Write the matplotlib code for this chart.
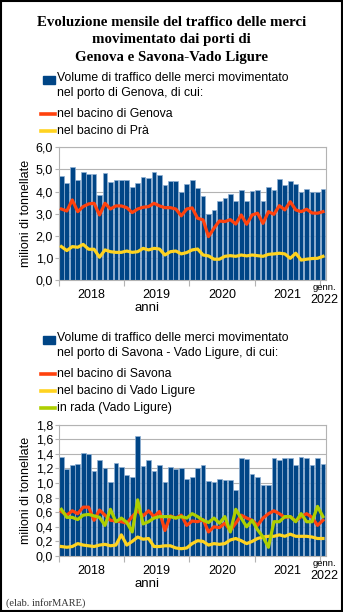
import numpy as np
import matplotlib
matplotlib.use("Agg")
import matplotlib.pyplot as plt
from matplotlib.patches import Rectangle
from matplotlib.lines import Line2D

# monthly data, Jan 2018 .. Jan 2022 (49 months), million tonnes
genova_tot = [4.68, 4.40, 5.12, 4.50, 4.87, 4.78, 4.80, 3.83, 4.82, 4.45, 4.50, 4.53,
              4.52, 4.20, 4.38, 4.65, 4.62, 4.90, 4.75, 4.30, 4.47, 4.48, 3.98, 4.35,
              4.53, 4.17, 3.82, 3.00, 3.18, 3.55, 3.70, 3.87, 3.57, 4.07, 3.57, 4.02,
              4.07, 3.57, 4.22, 4.08, 4.58, 4.28, 4.48, 4.35, 3.97, 4.10, 3.98, 3.98,
              4.12]
genova_bac = [3.21, 3.12, 3.62, 3.09, 3.32, 3.44, 3.47, 2.94, 3.47, 3.21, 3.35, 3.35,
              3.27, 3.05, 3.21, 3.29, 3.32, 3.47, 3.35, 3.27, 3.27, 3.21, 2.90, 3.21,
              3.26, 2.79, 2.72, 1.96, 2.34, 2.67, 2.64, 2.73, 2.53, 2.94, 2.52, 2.94,
              3.02, 2.56, 3.09, 2.97, 3.36, 3.17, 3.54, 3.17, 3.09, 3.20, 3.03, 3.02,
              3.09]
pra_bac = [1.51, 1.33, 1.51, 1.48, 1.61, 1.39, 1.39, 1.03, 1.36, 1.28, 1.25, 1.25,
           1.31, 1.25, 1.28, 1.43, 1.36, 1.43, 1.40, 1.13, 1.28, 1.31, 1.18, 1.24,
           1.36, 1.40, 1.13, 1.09, 0.94, 0.94, 1.07, 1.10, 1.07, 1.13, 1.09, 1.13,
           1.10, 1.07, 1.16, 1.18, 1.21, 1.18, 0.98, 1.21, 0.90, 0.94, 0.97, 0.98,
           1.07]

savona_tot = [1.36, 1.19, 1.25, 1.26, 1.41, 1.40, 1.17, 1.32, 1.20, 1.02, 1.28, 1.22,
              1.11, 1.08, 1.65, 1.23, 1.32, 1.16, 1.25, 1.02, 1.22, 1.19, 1.21, 1.06,
              1.09, 1.20, 1.25, 1.03, 1.01, 1.05, 1.04, 1.04, 0.90, 1.35, 1.33, 1.12,
              1.08, 0.98, 0.97, 1.35, 1.32, 1.35, 1.35, 1.25, 1.36, 1.34, 1.25, 1.34,
              1.26]
savona_bac = [0.61, 0.56, 0.62, 0.58, 0.67, 0.67, 0.49, 0.63, 0.56, 0.49, 0.48, 0.47,
              0.45, 0.54, 0.62, 0.55, 0.62, 0.54, 0.61, 0.35, 0.55, 0.52, 0.56, 0.42,
              0.48, 0.47, 0.50, 0.33, 0.40, 0.39, 0.45, 0.35, 0.45, 0.56, 0.52, 0.49,
              0.42, 0.52, 0.58, 0.62, 0.58, 0.53, 0.54, 0.48, 0.54, 0.58, 0.53, 0.42,
              0.49]
vado_bac = [0.13, 0.12, 0.13, 0.17, 0.15, 0.14, 0.13, 0.15, 0.16, 0.14, 0.15, 0.29,
            0.15, 0.20, 0.26, 0.23, 0.24, 0.13, 0.13, 0.14, 0.14, 0.11, 0.10, 0.11,
            0.17, 0.21, 0.20, 0.15, 0.17, 0.16, 0.17, 0.22, 0.24, 0.21, 0.17, 0.20,
            0.24, 0.26, 0.27, 0.27, 0.29, 0.27, 0.30, 0.27, 0.27, 0.27, 0.26, 0.24,
            0.24]
rada = [0.64, 0.53, 0.53, 0.50, 0.56, 0.57, 0.55, 0.53, 0.42, 0.64, 0.47, 0.52,
        0.46, 0.33, 0.77, 0.44, 0.47, 0.52, 0.54, 0.54, 0.54, 0.52, 0.54, 0.52,
        0.58, 0.54, 0.49, 0.46, 0.52, 0.45, 0.54, 0.33, 0.64, 0.52, 0.40, 0.49,
        0.36, 0.26, 0.12, 0.47, 0.47, 0.54, 0.54, 0.47, 0.58, 0.47, 0.47, 0.68,
        0.54]

year_labels = ["2018", "2019", "2020", "2021"]

BLUE = "#004586"
RED = "#ff420e"
YELLOW = "#ffd320"
GREEN = "#aecf00"
GRID = "#b3b3b3"

plt.rcParams["font.family"] = ["Liberation Sans", "DejaVu Sans"]

fig = plt.figure(figsize=(3.43, 6.12), dpi=100)
fig.patch.set_facecolor("white")
fig.patches.append(Rectangle((0.002, 0.002), 0.996, 0.996, transform=fig.transFigure,
                             fill=False, edgecolor="black", linewidth=1.5))

# title, one line at a time so the spacing matches
title_lines = ["Evoluzione mensile del traffico delle merci",
               "movimentato dai porti di",
               "Genova e Savona-Vado Ligure"]
for k, t in enumerate(title_lines):
    fig.text(0.5, 1 - (22 + 17.5 * k) / 612, t, ha="center", va="center",
             fontsize=10.7, fontweight="bold", family="Liberation Serif")

x = np.arange(len(genova_tot))


def legend_block(y0, entries):
    # entries: (kind, color, text, nlines); y in pixels from the top
    y = y0
    for kind, color, text, nl in entries:
        if kind == "bar":
            fig.patches.append(Rectangle((43 / 343, 1 - (y + 4) / 612), 12 / 343, 8 / 612,
                                         transform=fig.transFigure, color=color))
            fig.text(57 / 343, 1 - (y - 8) / 612, text, ha="left", va="top",
                     fontsize=8.8, linespacing=1.3)
        else:
            fig.lines.append(Line2D([41 / 343, 55 / 343], [1 - y / 612, 1 - y / 612],
                                    transform=fig.transFigure, color=color, lw=2.6))
            fig.text(57 / 343, 1 - y / 612, text, ha="left", va="center", fontsize=8.8)
        y += 17 * nl


def draw_panel(ax, tot, lines, ymax, step):
    ax.bar(x, tot, width=0.86, color=BLUE, edgecolor="#8fb0d3", linewidth=0.5, zorder=2)
    for vals, col in lines:
        ax.plot(x, vals, color=col, lw=2.3, zorder=3, solid_joinstyle="round")
    ax.set_xlim(-0.5, len(tot) - 0.5)
    ax.set_ylim(0, ymax)
    ticks = np.arange(0, ymax + step / 2, step)
    ax.set_yticks(ticks)
    ax.set_yticklabels([("%.1f" % t).replace(".", ",") for t in ticks], fontsize=9)
    ax.yaxis.grid(True, color=GRID, lw=0.8, zorder=0)
    ax.set_axisbelow(True)
    for s in ax.spines.values():
        s.set_color(GRID)
    ax.tick_params(axis="y", length=3, color=GRID, pad=1)
    ax.set_xticks([-0.5, 11.5, 23.5, 35.5, 47.5])
    ax.set_xticklabels([])
    ax.tick_params(axis="x", length=4, color=GRID)
    for i, lab in enumerate(year_labels):
        ax.text(5.5 + 12 * i, -0.07, lab, transform=ax.get_xaxis_transform(),
                ha="center", va="top", fontsize=9)
    ax.text(48.3, -0.02, "genn.", transform=ax.get_xaxis_transform(),
            ha="center", va="top", fontsize=6.8)
    ax.text(48.3, -0.105, "2022", transform=ax.get_xaxis_transform(),
            ha="center", va="top", fontsize=9)
    ax.text(0.33, -0.165, "anni", transform=ax.transAxes, ha="center", va="top", fontsize=9.5)
    ax.set_ylabel("milioni di tonnellate", fontsize=9, labelpad=3)


legend_block(80, [("bar", BLUE, "Volume di traffico delle merci movimentato\nnel porto di Genova, di cui:", 2),
                  ("line", RED, "nel bacino di Genova", 1),
                  ("line", YELLOW, "nel bacino di Prà", 1)])

ax1 = fig.add_axes([0.171, 0.5425, 0.7785, 0.2168])
draw_panel(ax1, genova_tot, [(genova_bac, RED), (pra_bac, YELLOW)], 6.0, 1.0)

legend_block(340, [("bar", BLUE, "Volume di traffico delle merci movimentato\nnel porto di Savona - Vado Ligure, di cui:", 2),
                   ("line", RED, "nel bacino di Savona", 1),
                   ("line", YELLOW, "nel bacino di Vado Ligure", 1),
                   ("line", GREEN, "in rada (Vado Ligure)", 1)])

ax2 = fig.add_axes([0.171, 0.0915, 0.7785, 0.2145])
draw_panel(ax2, savona_tot, [(savona_bac, RED), (vado_bac, YELLOW), (rada, GREEN)], 1.8, 0.2)

fig.text(6 / 343, 1 - 603 / 612, "(elab. inforMARE)", ha="left", va="center",
         fontsize=7.5, family="Liberation Serif", color="#333333")

fig.savefig("out.png", dpi=100)
